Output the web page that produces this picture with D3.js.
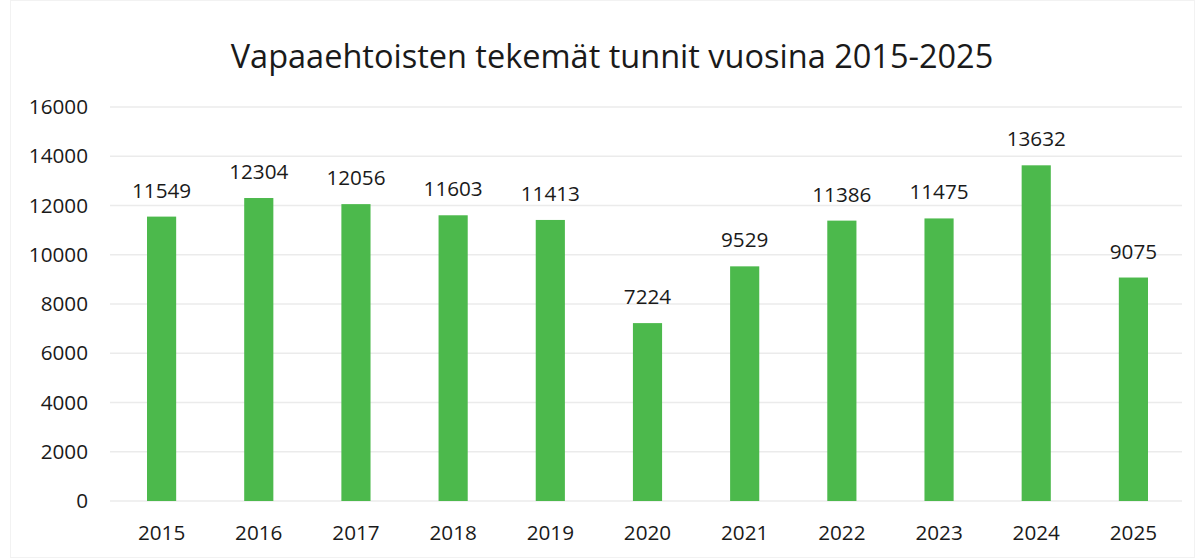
<!DOCTYPE html>
<html>
<head>
<meta charset="utf-8">
<script src="https://cdn.jsdelivr.net/npm/d3@7"></script>
<style>
  body { margin: 0; background: #fff; }
  svg { display: block; font-family: "Open Sans", sans-serif; }
</style>
</head>
<body>
<svg width="1204" height="558"></svg>
<script>
const years = ["2015", "2016", "2017", "2018", "2019", "2020", "2021", "2022", "2023", "2024", "2025"];
const hours = [11549, 12304, 12056, 11603, 11413, 7224, 9529, 11386, 11475, 13632, 9075];
const yTicks = [0, 2000, 4000, 6000, 8000, 10000, 12000, 14000, 16000];
const title = "Vapaaehtoisten tekemät tunnit vuosina 2015-2025";

const svg = d3.select("svg");
const width = +svg.attr("width");

const data = years.map((y, i) => ({ year: y, value: hours[i] }));

const x = d3.scaleBand()
    .domain(years)
    .range([113, 1182])
    .paddingInner(0.7)
    .paddingOuter(0.35);

const y = d3.scaleLinear()
    .domain([0, 16000])
    .range([501, 107]);

// faint scan frame
svg.append("rect")
    .attr("x", 10.5).attr("y", 0.5)
    .attr("width", width - 20).attr("height", 557)
    .attr("fill", "none")
    .attr("stroke", "#f2f2f2");

svg.append("text")
    .attr("x", 612)
    .attr("y", 68)
    .attr("text-anchor", "middle")
    .attr("font-size", "32.5px")
    .attr("fill", "#1a1a1a")
    .text(title);

// gridlines
svg.append("g")
    .selectAll("line")
    .data(yTicks)
    .join("line")
    .attr("x1", 110)
    .attr("x2", 1182)
    .attr("y1", d => y(d))
    .attr("y2", d => y(d))
    .attr("stroke", "#ebebeb")
    .attr("stroke-width", 1.5);

const yAxis = svg.append("g")
    .attr("transform", "translate(92,0)")
    .call(d3.axisLeft(y).tickValues(yTicks).tickSize(0).tickPadding(4).tickFormat(d3.format("d")));
yAxis.select(".domain").remove();
yAxis.selectAll("text")
    .attr("font-family", "Open Sans, sans-serif")
    .attr("font-size", "20.7px")
    .attr("fill", "#1a1a1a");

const xAxis = svg.append("g")
    .attr("transform", "translate(0,517)")
    .call(d3.axisBottom(x).tickSize(0).tickPadding(8));
xAxis.select(".domain").remove();
xAxis.selectAll("text")
    .attr("font-family", "Open Sans, sans-serif")
    .attr("font-size", "20.7px")
    .attr("fill", "#1a1a1a");

svg.append("g")
    .selectAll("rect")
    .data(data)
    .join("rect")
    .attr("x", d => x(d.year))
    .attr("y", d => y(d.value))
    .attr("width", x.bandwidth())
    .attr("height", d => y(0) - y(d.value))
    .attr("fill", "#4cb94c");

svg.append("g")
    .selectAll("text")
    .data(data)
    .join("text")
    .attr("x", d => x(d.year) + x.bandwidth() / 2)
    .attr("y", d => y(d.value) - 19)
    .attr("text-anchor", "middle")
    .attr("font-size", "20.7px")
    .attr("fill", "#1a1a1a")
    .text(d => d.value);
</script>
</body>
</html>
